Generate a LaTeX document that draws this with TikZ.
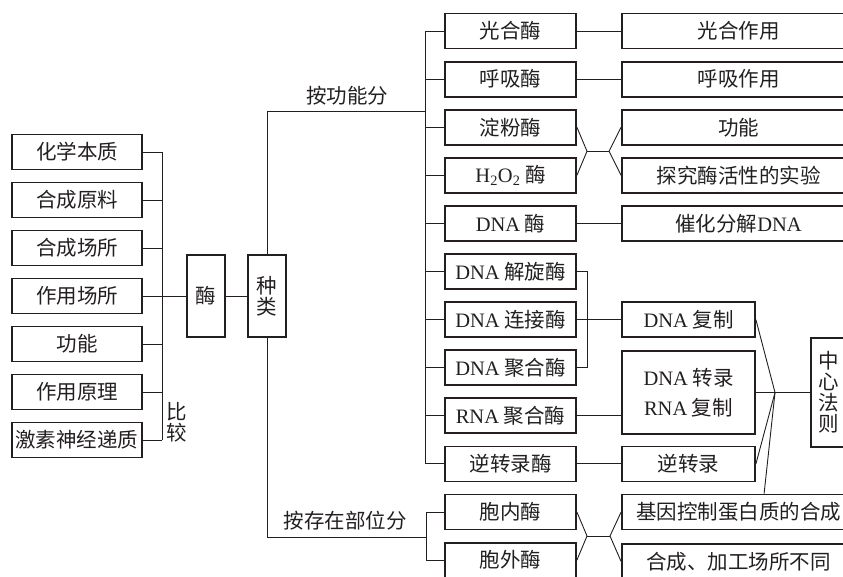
\documentclass[tikz,border=0pt]{standalone}
\usepackage{fontspec}
\setmainfont{Noto Sans CJK SC}
\newfontfamily\latinfont{Liberation Serif}
\usetikzlibrary{calc}
\definecolor{chartink}{HTML}{231F20}
\newcommand\en[1]{{\latinfont #1}}
\tikzset{
  chartfont/.style={font=\fontsize{20.5pt}{21pt}\selectfont, text=chartink},
  itembox/.style={chartfont, draw=chartink, line width=1.8pt, inner sep=0pt,
    minimum height=35pt},
  leftbox/.style={itembox, minimum width=130pt},
  enzbox/.style={itembox, minimum width=131pt},
  resbox/.style={itembox, minimum width=233pt},
  procbox/.style={itembox, minimum width=133pt},
  tallbox/.style={itembox, minimum width=38pt, minimum height=82pt, align=center},
  link/.style={draw=chartink, line width=.9pt},
  branchlabel/.style={chartfont, inner sep=0pt}
}

\begin{document}
\begin{tikzpicture}[x=1pt,y=-1pt]
  % enzyme overview chart, page is cut at the right and bottom edge
  \useasboundingbox (0,0) rectangle (843,576);
  \clip (0,0) rectangle (843,576);

  \node[leftbox] (nature) at (77,152) {化学本质};
  \node[leftbox] (material) at (77,200) {合成原料};
  \node[leftbox] (synsite) at (77,248) {合成场所};
  \node[leftbox] (actsite) at (77,296) {作用场所};
  \node[leftbox] (role) at (77,344) {功能};
  \node[leftbox] (mechanism) at (77,392) {作用原理};
  \node[leftbox] (hormone) at (77,440) {激素神经递质};
  \node[branchlabel, align=center] (compare) at (177,422) {比\\较};

  \node[tallbox] (enzyme) at (206,296) {酶};
  \node[tallbox] (kind) at (267,296) {种\\类};

  \coordinate (cmpbus) at (162,296);
  \foreach \n in {nature,material,synsite,role,mechanism,hormone} {
    \draw[link] (\n.east) -- (\n.east -| cmpbus);
  }
  \draw[link] (nature.east -| cmpbus) -- (hormone.east -| cmpbus);
  \draw[link] (actsite.east) -- (enzyme.west);
  \draw[link] (enzyme.east) -- (kind.west);

  % by function
  \node[enzbox] (photoenz) at (510.5,31) {光合酶};
  \node[enzbox] (respenz) at (510.5,79.1) {呼吸酶};
  \node[enzbox] (amylase) at (510.5,127.2) {淀粉酶};
  \node[enzbox] (catalase) at (510.5,175.3) {\en{H\textsubscript{2}O\textsubscript{2}} 酶};
  \node[enzbox] (dnase) at (510.5,223.4) {\en{DNA} 酶};
  \node[enzbox] (helicase) at (510.5,271.5) {\en{DNA} 解旋酶};
  \node[enzbox] (ligase) at (510.5,319.6) {\en{DNA} 连接酶};
  \node[enzbox] (dnapol) at (510.5,367.7) {\en{DNA} 聚合酶};
  \node[enzbox] (rnapol) at (510.5,415.8) {\en{RNA} 聚合酶};
  \node[enzbox] (revtr) at (510.5,463.9) {逆转录酶};
  % by location
  \node[enzbox] (inner) at (510.5,512) {胞内酶};
  \node[enzbox] (outer) at (510.5,560.1) {胞外酶};

  \node[branchlabel] (byfunc) at (347,96) {按功能分};
  \node[branchlabel] (byplace) at (345,521) {按存在部位分};

  \coordinate (funcbus) at (425,111);
  \coordinate (placebus) at (426,537);
  \draw[link] (kind.north) |- (funcbus);
  \draw[link] (kind.south) |- (placebus);
  \draw[link] (photoenz.west -| funcbus) -- (revtr.west -| funcbus);
  \foreach \n in {photoenz,respenz,amylase,catalase,dnase,helicase,ligase,dnapol,rnapol,revtr} {
    \draw[link] (\n.west) -- (\n.west -| funcbus);
  }
  \draw[link] (inner.west -| placebus) -- (outer.west -| placebus);
  \foreach \n in {inner,outer} {
    \draw[link] (\n.west) -- (\n.west -| placebus);
  }

  \node[resbox] (photo) at (738.5,31) {光合作用};
  \node[resbox] (resp) at (738.5,79.1) {呼吸作用};
  \node[resbox] (func) at (738.5,127.2) {功能};
  \node[resbox] (expt) at (738.5,175.3) {探究酶活性的实验};
  \node[resbox] (hydro) at (738.5,223.4) {催化分解\en{DNA}};
  \node[procbox] (rep) at (688.5,319.6) {\en{DNA} 复制};
  \node[procbox, minimum height=83pt, align=center,
    font=\fontsize{20.5pt}{30pt}\selectfont] (trans) at (688.5,392.5)
    {\en{DNA} 转录\\\en{RNA} 复制};
  \node[procbox] (rtr) at (688.5,463.9) {逆转录};
  \node[tallbox, minimum width=36pt, minimum height=109pt] (dogma) at (829,392.5)
    {中\\心\\法\\则};
  \node[resbox] (gene) at (738.5,512) {基因控制蛋白质的合成};
  \node[resbox] (site) at (738.5,561.5) {合成、加工场所不同};

  \draw[link] (photoenz.east) -- (photo.west);
  \draw[link] (respenz.east) -- (resp.west);
  \draw[link] (dnase.east) -- (hydro.west);

  \coordinate (amyl) at (587,151.25);
  \coordinate (amyr) at (609,151.25);
  \draw[link] (amylase.east) -- (amyl) -- (catalase.east);
  \draw[link] (func.west) -- (amyr) -- (expt.west);
  \draw[link] (amyl) -- (amyr);

  \coordinate (dnabr) at (587,319.6);
  \draw[link] (helicase.east) -- (helicase.east -| dnabr)
    -- (dnapol.east -| dnabr) -- (dnapol.east);
  \draw[link] (ligase.east) -- (rep.west);
  \draw[link] (rnapol.east) -- (rnapol.east -| trans.west);
  \draw[link] (revtr.east) -- (rtr.west);

  \coordinate (join) at (775,392.5);
  \draw[link] (rep.east) -- (join);
  \draw[link] (rtr.east) -- (join);
  \draw[link] ($(gene.north west)+(143,0)$) -- (join);
  \draw[link] (trans.east) -- (dogma.west);

  \coordinate (locl) at (587,536);
  \coordinate (locr) at (610,536);
  \draw[link] (inner.east) -- (locl) -- (outer.east);
  \draw[link] (gene.west) -- (locr) -- (site.west);
  \draw[link] (locl) -- (locr);
\end{tikzpicture}
\end{document}
